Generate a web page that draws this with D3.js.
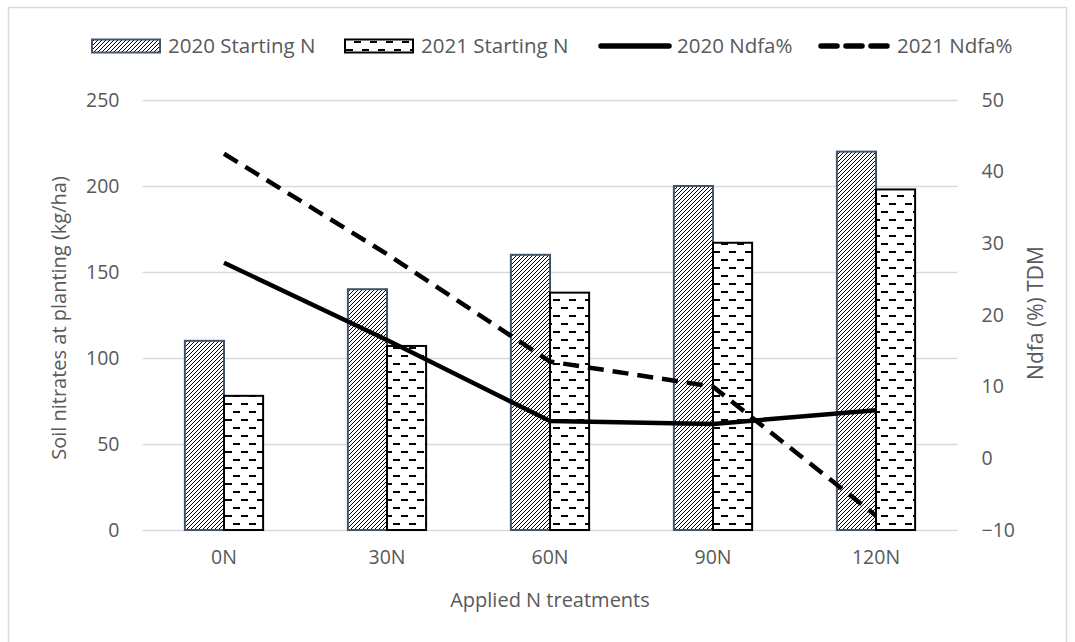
<!DOCTYPE html>
<html>
<head>
<meta charset="utf-8">
<script src="https://cdn.jsdelivr.net/npm/d3@7"></script>
<style>
  html, body { margin: 0; padding: 0; background: #fff; }
  svg { display: block; font-family: "Open Sans", "Noto Sans", sans-serif; }
</style>
</head>
<body>
<svg id="chart" width="1075" height="642"></svg>
<script>
// Applied N treatments and measured values
const categories = ["0N", "30N", "60N", "90N", "120N"];
const startN2020 = [110, 140, 160, 200, 220];
const startN2021 = [78, 107, 138, 167, 198];
const ndfa2020 = [27.3, 16.5, 5.2, 4.8, 6.7];
const ndfa2021 = [42.5, 28.5, 13.5, 10, -8];
const leftTicks = [0, 50, 100, 150, 200, 250];
const rightTicks = [-10, 0, 10, 20, 30, 40, 50];
const seriesNames = ["2020 Starting N", "2021 Starting N", "2020 Ndfa%", "2021 Ndfa%"];

const svg = d3.select("#chart");
const W = 1075, H = 642;
const plot = { left: 142.5, right: 957.5, top: 100, bottom: 530 };
const textColor = "#595959";
const gridColor = "#d9d9d9";
const barEdge2020 = "#44546a";
const fontFamily = '"Open Sans", "Noto Sans", sans-serif';

// outer frame (its bottom edge falls outside the canvas)
svg.append("rect")
  .attr("x", 8.5).attr("y", 7.5)
  .attr("width", W - 17).attr("height", H + 20)
  .attr("fill", "none").attr("stroke", "#d9d9d9").attr("stroke-width", 1.5);

// fill patterns
const defs = svg.append("defs");
const hatch = defs.append("pattern")
  .attr("id", "hatch").attr("patternUnits", "userSpaceOnUse")
  .attr("width", 4).attr("height", 4);
hatch.append("rect").attr("width", 4).attr("height", 4).attr("fill", "#fff");
hatch.append("path").attr("d", "M-1,5 L5,-1 M-1,1 L1,-1 M3,5 L5,3")
  .attr("stroke", "#000").attr("stroke-width", 1);

const dash = defs.append("pattern")
  .attr("id", "dashes").attr("patternUnits", "userSpaceOnUse")
  .attr("width", 16).attr("height", 16);
dash.append("rect").attr("width", 16).attr("height", 16).attr("fill", "#fff");
dash.append("path").attr("d", "M1,4 H8 M9,12 H16")
  .attr("stroke", "#000").attr("stroke-width", 2);

// scales
const x = d3.scaleBand().domain(categories).range([plot.left, plot.right]);
const yL = d3.scaleLinear().domain([0, 250]).range([plot.bottom, plot.top]);
const yR = d3.scaleLinear().domain([-10, 50]).range([plot.bottom, plot.top]);
const barW = x.bandwidth() * 0.24;
const cx = c => x(c) + x.bandwidth() / 2;

// gridlines
svg.append("g").selectAll("line").data(leftTicks).join("line")
  .attr("x1", plot.left).attr("x2", plot.right)
  .attr("y1", d => Math.round(yL(d)) + 0.5).attr("y2", d => Math.round(yL(d)) + 0.5)
  .attr("stroke", gridColor).attr("stroke-width", 1.5);

function styleAxis(g) {
  g.attr("font-family", fontFamily).attr("font-size", 19.5);
  g.select(".domain").remove();
  g.selectAll("text").attr("fill", textColor);
}

// left axis
svg.append("g").attr("transform", `translate(${plot.left},0)`)
  .call(d3.axisLeft(yL).tickValues(leftTicks).tickSize(0).tickPadding(23))
  .call(styleAxis);

// right axis
svg.append("g").attr("transform", `translate(${plot.right},0)`)
  .call(d3.axisRight(yR).tickValues(rightTicks).tickSize(0).tickPadding(24))
  .call(styleAxis);

// bottom axis
svg.append("g").attr("transform", `translate(0,${plot.bottom})`)
  .call(d3.axisBottom(x).tickSize(0).tickPadding(20))
  .call(styleAxis);

// bars
const bars = svg.append("g");
bars.selectAll("rect.b20").data(startN2020).join("rect")
  .attr("class", "b20")
  .attr("x", (d, i) => cx(categories[i]) - barW)
  .attr("y", d => yL(d))
  .attr("width", barW).attr("height", d => yL(0) - yL(d))
  .attr("fill", "url(#hatch)").attr("stroke", barEdge2020).attr("stroke-width", 2);
bars.selectAll("rect.b21").data(startN2021).join("rect")
  .attr("class", "b21")
  .attr("x", (d, i) => cx(categories[i]))
  .attr("y", d => yL(d))
  .attr("width", barW).attr("height", d => yL(0) - yL(d))
  .attr("fill", "url(#dashes)").attr("stroke", "#000").attr("stroke-width", 2);

// Ndfa lines on the right axis
const line = d3.line()
  .x((d, i) => cx(categories[i]))
  .y(d => yR(d));
svg.append("path").datum(ndfa2020).attr("d", line)
  .attr("fill", "none").attr("stroke", "#000").attr("stroke-width", 4.5)
  .attr("stroke-linejoin", "round");
svg.append("path").datum(ndfa2021).attr("d", line)
  .attr("fill", "none").attr("stroke", "#000").attr("stroke-width", 4.5)
  .attr("stroke-dasharray", "16,9");

// axis titles
svg.append("text")
  .attr("transform", `translate(66,${(plot.top + plot.bottom) / 2 + 3}) rotate(-90)`)
  .attr("text-anchor", "middle").attr("fill", textColor).style("font-size", "20px")
  .text("Soil nitrates at planting (kg/ha)");
svg.append("text")
  .attr("transform", `translate(1043,${(plot.top + plot.bottom) / 2 - 2}) rotate(-90)`)
  .attr("text-anchor", "middle").attr("fill", textColor).style("font-size", "21px")
  .text("Ndfa (%) TDM");
svg.append("text")
  .attr("x", (plot.left + plot.right) / 2).attr("y", 607)
  .attr("text-anchor", "middle").attr("fill", textColor).style("font-size", "20px")
  .text("Applied N treatments");

// legend
const legendKinds = ["hatch", "dashes", "solid", "dashed"];
const legendX = [92, 345, 598, 818];
const lg = svg.append("g");
seriesNames.forEach((name, i) => {
  const kind = legendKinds[i];
  const g = lg.append("g").attr("transform", `translate(${legendX[i]},46)`);
  if (kind === "hatch" || kind === "dashes") {
    g.append("rect").attr("x", 0).attr("y", -6.5).attr("width", 68).attr("height", 13)
      .attr("fill", `url(#${kind})`)
      .attr("stroke", kind === "hatch" ? barEdge2020 : "#000").attr("stroke-width", 2);
  } else {
    g.append("line").attr("x1", 3).attr("x2", 71).attr("y1", 0).attr("y2", 0)
      .attr("stroke", "#000").attr("stroke-width", 5.5)
      .attr("stroke-dasharray", kind === "dashed" ? "16,9" : null)
      .attr("stroke-linecap", "round");
  }
  g.append("text").attr("x", kind === "hatch" || kind === "dashes" ? 76 : 79).attr("y", 0).attr("dy", "0.35em")
    .attr("fill", textColor).style("font-size", "20.5px").text(name);
});
</script>
</body>
</html>
